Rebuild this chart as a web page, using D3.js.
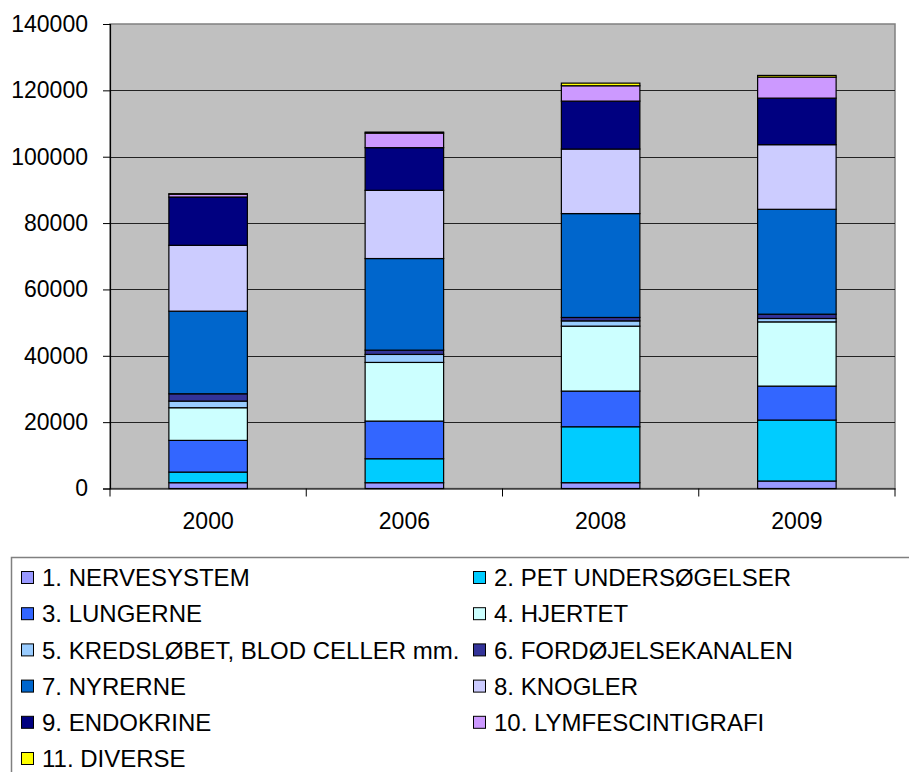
<!DOCTYPE html>
<html><head><meta charset="utf-8">
<script src="https://cdn.jsdelivr.net/npm/d3@7"></script>
<style>body{margin:0;background:#fff;} svg{display:block;font-family:"Liberation Sans",Arial,sans-serif;}</style>
</head><body>
<script>
const years = ["2000","2006","2008","2009"];
const seriesNames = ["1. NERVESYSTEM","2. PET UNDERSØGELSER","3. LUNGERNE","4. HJERTET","5. KREDSLØBET, BLOD CELLER mm.","6. FORDØJELSEKANALEN","7. NYRERNE","8. KNOGLER","9. ENDOKRINE","10. LYMFESCINTIGRAFI","11. DIVERSE"];
const nervesystem = [1750, 1750, 1750, 2260];
const pet = [3200, 7220, 16860, 18370];
const lungerne = [9550, 11350, 10750, 10230];
const hjertet = [9850, 17680, 19570, 19360];
const kredslobet = [2000, 2410, 1590, 1020];
const fordojelse = [2200, 1290, 1030, 1300];
const nyrerne = [24900, 27610, 31310, 31610];
const knogler = [19850, 20560, 19450, 19480];
const endokrine = [14550, 12860, 14450, 14030];
const lymfe = [850, 4390, 4630, 6330];
const diverse = [150, 300, 790, 510];
const yTicks = [0,20000,40000,60000,80000,100000,120000,140000];
const colors = ["#9999FF","#00CCFF","#3366FF","#CCFFFF","#99CCFF","#333399","#0066CC","#CCCCFF","#000080","#CC99FF","#FFFF00"];

const allSeries = [nervesystem,pet,lungerne,hjertet,kredslobet,fordojelse,nyrerne,knogler,endokrine,lymfe,diverse];
const table = years.map((y,i)=>{const o={year:y}; seriesNames.forEach((n,j)=>o[n]=allSeries[j][i]); return o;});

const W=909,H=772;
const FONT="'Liberation Sans',Arial,sans-serif";
const svg=d3.select("body").append("svg").attr("width",W).attr("height",H);
const m={left:110,right:895,top:24,bottom:488.5};
const x=d3.scaleBand().domain(years).range([m.left,m.right]).paddingInner(0.6).paddingOuter(0.3);
const y=d3.scaleLinear().domain([0,140000]).range([m.bottom,m.top]);

svg.append("rect").attr("x",m.left).attr("y",m.top).attr("width",m.right-m.left).attr("height",m.bottom-m.top).attr("fill","#C0C0C0").attr("stroke","#808080").attr("stroke-width",1.5);

// gridlines
svg.append("g").selectAll("line").data(yTicks.filter(t=>t>0&&t<140000)).join("line")
  .attr("x1",m.left).attr("x2",m.right).attr("y1",d=>Math.round(y(d))+0.5).attr("y2",d=>Math.round(y(d))+0.5)
  .attr("stroke","#222").attr("stroke-width",1);

const stack=d3.stack().keys(seriesNames)(table);
svg.append("g").selectAll("g").data(stack).join("g").attr("fill",(d,i)=>colors[i])
  .selectAll("rect").data(d=>d).join("rect")
  .attr("x",d=>x(d.data.year)).attr("width",x.bandwidth())
  .attr("y",d=>y(d[1])).attr("height",d=>y(d[0])-y(d[1]))
  .attr("stroke","#000").attr("stroke-width",1.2);

// y axis
const ya=svg.append("g").attr("transform",`translate(${m.left},0)`)
  .call(d3.axisLeft(y).tickValues(yTicks).tickSize(7).tickPadding(15).tickFormat(d3.format("d")));
ya.select(".domain").attr("stroke","#000").attr("stroke-width",1.2);
ya.selectAll(".tick line").attr("stroke","#000");
ya.selectAll("text").attr("font-size","23px").attr("fill","#000").attr("font-family",FONT);

// x axis
const xa=svg.append("g").attr("transform",`translate(0,${m.bottom})`)
  .call(d3.axisBottom(x).tickSize(0).tickPadding(24));
xa.select(".domain").attr("stroke","#000").attr("stroke-width",1.2);
xa.selectAll("text").attr("font-size","23px").attr("fill","#000").attr("font-family",FONT);
const step=x.step();
svg.append("g").selectAll("line").data(d3.range(years.length+1)).join("line")
  .attr("x1",i=>m.left+i*step).attr("x2",i=>m.left+i*step).attr("y1",m.bottom).attr("y2",m.bottom+8)
  .attr("stroke","#000").attr("stroke-width",1);

// legend
svg.append("rect").attr("x",11.5).attr("y",557.5).attr("width",905).attr("height",230).attr("fill","#fff").attr("stroke","#808080").attr("stroke-width",1.5);
const lg=svg.append("g").selectAll("g").data(seriesNames).join("g")
  .attr("transform",(d,i)=>`translate(${i%2===0?21:473},${577.5+Math.floor(i/2)*36.2})`);
lg.append("rect").attr("x",0.5).attr("y",-6).attr("width",12).attr("height",12).attr("fill",(d,i)=>colors[i]).attr("stroke","#000").attr("stroke-width",1);
lg.append("text").attr("x",21).attr("y",0).attr("dy","0.36em").attr("font-size","24px").attr("fill","#000").attr("font-family",FONT).text(d=>d);
</script>
</body></html>
